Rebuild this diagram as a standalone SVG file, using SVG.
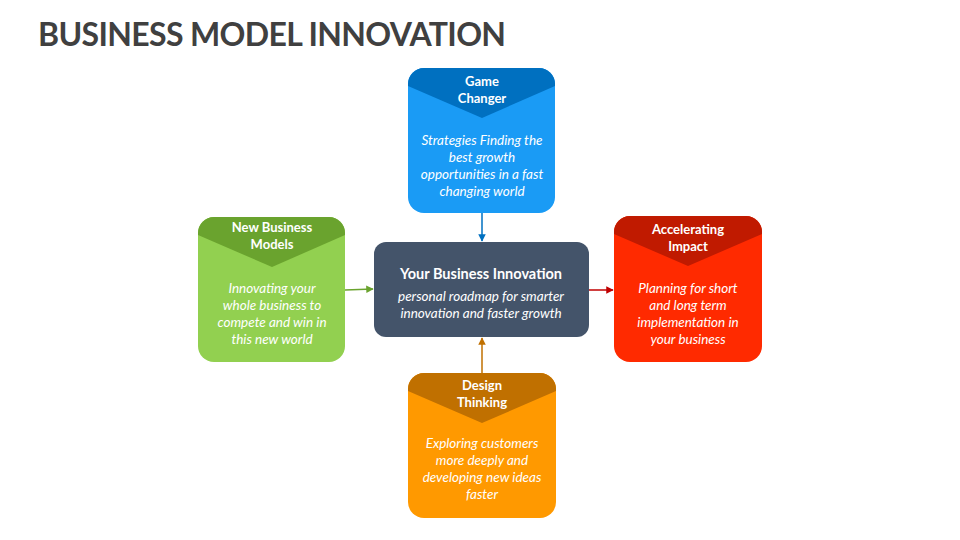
<svg xmlns="http://www.w3.org/2000/svg" width="960" height="540" viewBox="0 0 960 540">
<style>
text{font-family:Lato,"Open Sans","Liberation Sans",sans-serif;fill:#fff;text-anchor:middle}
.t{font-weight:bold;font-size:13px}
.b{font-style:italic;font-size:13.5px}
.h{font-size:32px;font-weight:bold;fill:#404040;text-anchor:start}
</style>
<defs>
<marker id="ab" viewBox="0 0 10 10" refX="9" refY="5" markerWidth="5" markerHeight="5" orient="auto"><path d="M0,0L10,5L0,10z" fill="#0070C0"/></marker>
<marker id="ag" viewBox="0 0 10 10" refX="9" refY="5" markerWidth="5" markerHeight="5" orient="auto"><path d="M0,0L10,5L0,10z" fill="#6AA32E"/></marker>
<marker id="ar" viewBox="0 0 10 10" refX="9" refY="5" markerWidth="5" markerHeight="5" orient="auto"><path d="M0,0L10,5L0,10z" fill="#C00000"/></marker>
<marker id="ao" viewBox="0 0 10 10" refX="9" refY="5" markerWidth="5" markerHeight="5" orient="auto"><path d="M0,0L10,5L0,10z" fill="#C07000"/></marker>
</defs>
<rect width="960" height="540" fill="#fff"/>
<text class="h" x="38" y="46" textLength="468">BUSINESS MODEL INNOVATION</text>
<g id="connectors" stroke-width="1.5" fill="none">
<line x1="482" y1="213" x2="482" y2="241" stroke="#0070C0" marker-end="url(#ab)"/>
<line x1="345" y1="290" x2="373" y2="289" stroke="#6AA32E" marker-end="url(#ag)"/>
<line x1="589" y1="290" x2="613" y2="290" stroke="#C00000" marker-end="url(#ar)"/>
<line x1="482" y1="373" x2="482" y2="338" stroke="#C07000" marker-end="url(#ao)"/>
</g>
<g id="center">
<rect x="374" y="242" width="215" height="95" rx="12" fill="#44546A"/>
<text x="481" y="279" style="font-weight:bold;font-size:14.5px">Your Business Innovation</text>
<text class="b" x="481" y="301">personal roadmap for smarter</text>
<text class="b" x="481" y="318">innovation and faster growth</text>
</g>
<g id="game-changer">
<rect x="408" y="68" width="147" height="145" rx="16" fill="#1A9BF5"/>
<path d="M424,68H539A16,16 0 0 1 555,84V86L482,118L408,86V84A16,16 0 0 1 424,68Z" fill="#0070C0"/>
<text class="t" x="482" y="86">Game</text>
<text class="t" x="482" y="103">Changer</text>
<text class="b" x="482" y="145">Strategies Finding the</text>
<text class="b" x="482" y="162">best growth</text>
<text class="b" x="482" y="179">opportunities in a fast</text>
<text class="b" x="482" y="196">changing world</text>
</g>
<g id="new-business-models">
<rect x="198" y="217" width="147" height="145" rx="16" fill="#92D050"/>
<path d="M214,217H329A16,16 0 0 1 345,233V235L272,267L198,235V233A16,16 0 0 1 214,217Z" fill="#6AA32E"/>
<text class="t" x="272" y="232">New Business</text>
<text class="t" x="272" y="249">Models</text>
<text class="b" x="272" y="293">Innovating your</text>
<text class="b" x="272" y="310">whole business to</text>
<text class="b" x="272" y="327">compete and win in</text>
<text class="b" x="272" y="344">this new world</text>
</g>
<g id="accelerating-impact">
<rect x="614" y="216" width="148" height="146" rx="16" fill="#FF2A00"/>
<path d="M630,216H746A16,16 0 0 1 762,232V234L688,266L614,234V232A16,16 0 0 1 630,216Z" fill="#C01A00"/>
<text class="t" x="688" y="234">Accelerating</text>
<text class="t" x="688" y="251">Impact</text>
<text class="b" x="688" y="293">Planning for short</text>
<text class="b" x="688" y="310">and long term</text>
<text class="b" x="688" y="327">implementation in</text>
<text class="b" x="688" y="344">your business</text>
</g>
<g id="design-thinking">
<rect x="408" y="373" width="148" height="145" rx="16" fill="#FF9900"/>
<path d="M424,373H540A16,16 0 0 1 556,389V391L482,423L408,391V389A16,16 0 0 1 424,373Z" fill="#C07000"/>
<text class="t" x="482" y="390">Design</text>
<text class="t" x="482" y="407">Thinking</text>
<text class="b" x="482" y="448">Exploring customers</text>
<text class="b" x="482" y="465">more deeply and</text>
<text class="b" x="482" y="482">developing new ideas</text>
<text class="b" x="482" y="499">faster</text>
</g>
</svg>
